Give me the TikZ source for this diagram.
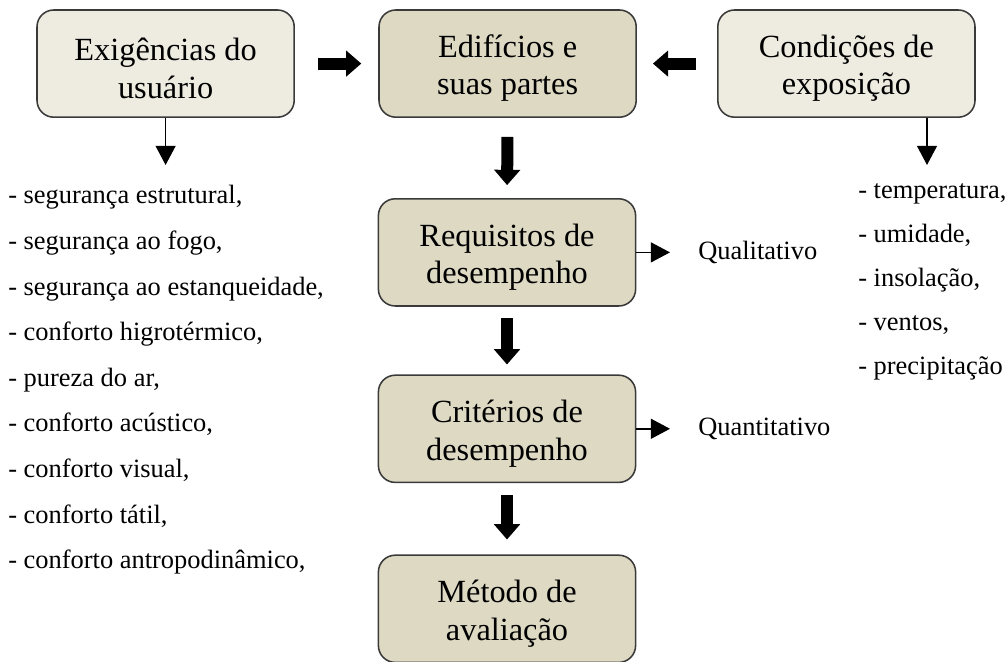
\documentclass[tikz,border=0pt]{standalone}
\usepackage{fontspec}
\setmainfont{Liberation Serif}
\usepackage{tikz}
\usetikzlibrary{arrows.meta}
\definecolor{clara}{HTML}{EEECE1}
\definecolor{escura}{HTML}{DDD9C3}
\definecolor{borda}{HTML}{3A3A3A}

\begin{document}
\begin{tikzpicture}[
  caixa/.style={draw=borda, line width=1.1pt, rounded corners=0.42cm, fill=clara,
    minimum width=6.43cm, minimum height=2.68cm, align=center, text height=49.5pt,
    font=\fontsize{23}{26.5}\selectfont},
  caixaesc/.style={caixa, fill=escura},
  item/.style={anchor=base west, inner sep=0pt, font=\fontsize{18.8}{22}\selectfont},
  seta/.style={line width=1.1pt, -{Triangle[length=0.48cm,width=0.5cm]}},
  grossa/.style={line width=0.3cm, -{Triangle[length=0.38cm,width=0.66cm,line width=0pt]}}]
\useasboundingbox (0,0) rectangle (25.15,16.55);
% Caixas do topo
\node[caixa] (exig) at (4.14,14.96) {Exigências do\\usuário};
\node[caixaesc] (edif) at (12.69,14.96) {Edifícios e\\suas partes};
\node[caixa] (cond) at (21.16,14.96) {Condições de\\exposição};
% Coluna central
\node[caixaesc] (req) at (12.675,10.24) {Requisitos de\\desempenho};
\node[caixaesc] (crit) at (12.675,5.83) {Critérios de\\desempenho};
\node[caixaesc] (met) at (12.675,1.33) {Método de\\avaliação};
% Setas grossas
\draw[grossa, shorten <=0.575cm, shorten >=0.425cm] (exig.east) -- (edif.west);
\draw[grossa, shorten <=0.525cm, shorten >=0.4cm] (cond.west) -- (edif.east);
\draw[grossa, shorten <=0.475cm, shorten >=0.325cm] (edif.south) -- (req.north);
\draw[grossa, shorten <=0.275cm, shorten >=0.25cm] (req.south) -- (crit.north);
\draw[grossa, shorten <=0.3cm, shorten >=0.375cm] (crit.south) -- (met.north);
% Setas finas
\coordinate (usrfim) at (4.14,12.425);
\coordinate (expfim) at (23.175,12.425);
\draw[seta] (exig.south) -- (usrfim);
\draw[seta] (cond.south -| expfim) -- (expfim);
\node[item, anchor=west] (qual) at (17.45,10.24) {Qualitativo};
\node[item, anchor=west] (quant) at (17.45,5.83) {Quantitativo};
\draw[seta, shorten >=0.7cm] (req.east) -- (qual.west);
\draw[seta, shorten >=0.7cm] (crit.east) -- (quant.west);
% Listas
\foreach \t [count=\i] in {{segurança estrutural,}, {segurança ao fogo,},
    {segurança ao estanqueidade,}, {conforto higrotérmico,}, {pureza do ar,},
    {conforto acústico,}, {conforto visual,}, {conforto tátil,},
    {conforto antropodinâmico,}}
  \node[item] (usr\i) at (0.2,{11.45-1.14*(\i-1)}) {- \t};
\foreach \t [count=\i] in {{temperatura,}, {umidade,}, {insolação,}, {ventos,},
    {precipitação}}
  \node[item] (exp\i) at (21.45,{11.58-1.1*(\i-1)}) {- \t};
\end{tikzpicture}
\end{document}
